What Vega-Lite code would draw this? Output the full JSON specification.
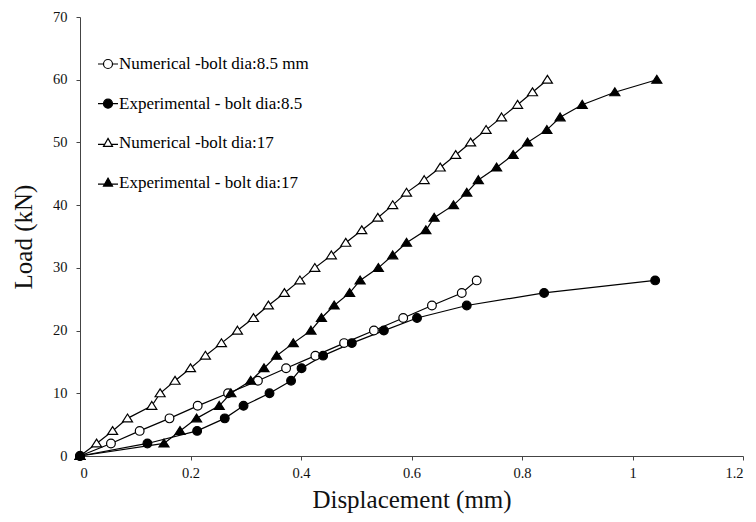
{
  "$schema": "https://vega.github.io/schema/vega-lite/v6.json",
  "width": 663,
  "height": 439,
  "autosize": {"type": "none"},
  "padding": {"left": 80, "top": 17, "right": 13, "bottom": 66},
  "background": "white",
  "config": {
    "font": "Liberation Serif",
    "view": {"stroke": null},
    "axis": {
      "grid": false,
      "domainColor": "#444",
      "domainWidth": 1,
      "tickColor": "#444",
      "tickSize": 4,
      "labelFont": "Liberation Serif",
      "labelFontSize": 14.5,
      "labelColor": "#111",
      "titleFont": "Liberation Serif",
      "titleFontSize": 25,
      "titleFontWeight": "normal",
      "titleColor": "#111"
    }
  },
  "data": {
    "values": [
      {"series": "Numerical -bolt dia:8.5 mm", "disp": 0, "load": 0},
      {"series": "Numerical -bolt dia:8.5 mm", "disp": 0.056, "load": 2},
      {"series": "Numerical -bolt dia:8.5 mm", "disp": 0.108, "load": 4},
      {"series": "Numerical -bolt dia:8.5 mm", "disp": 0.162, "load": 6},
      {"series": "Numerical -bolt dia:8.5 mm", "disp": 0.213, "load": 8},
      {"series": "Numerical -bolt dia:8.5 mm", "disp": 0.268, "load": 10},
      {"series": "Numerical -bolt dia:8.5 mm", "disp": 0.322, "load": 12},
      {"series": "Numerical -bolt dia:8.5 mm", "disp": 0.373, "load": 14},
      {"series": "Numerical -bolt dia:8.5 mm", "disp": 0.426, "load": 16},
      {"series": "Numerical -bolt dia:8.5 mm", "disp": 0.478, "load": 18},
      {"series": "Numerical -bolt dia:8.5 mm", "disp": 0.532, "load": 20},
      {"series": "Numerical -bolt dia:8.5 mm", "disp": 0.585, "load": 22},
      {"series": "Numerical -bolt dia:8.5 mm", "disp": 0.637, "load": 24},
      {"series": "Numerical -bolt dia:8.5 mm", "disp": 0.691, "load": 26},
      {"series": "Numerical -bolt dia:8.5 mm", "disp": 0.718, "load": 28},
      {"series": "Experimental - bolt dia:8.5", "disp": 0, "load": 0},
      {"series": "Experimental - bolt dia:8.5", "disp": 0.122, "load": 2},
      {"series": "Experimental - bolt dia:8.5", "disp": 0.212, "load": 4},
      {"series": "Experimental - bolt dia:8.5", "disp": 0.262, "load": 6},
      {"series": "Experimental - bolt dia:8.5", "disp": 0.296, "load": 8},
      {"series": "Experimental - bolt dia:8.5", "disp": 0.343, "load": 10},
      {"series": "Experimental - bolt dia:8.5", "disp": 0.382, "load": 12},
      {"series": "Experimental - bolt dia:8.5", "disp": 0.401, "load": 14},
      {"series": "Experimental - bolt dia:8.5", "disp": 0.44, "load": 16},
      {"series": "Experimental - bolt dia:8.5", "disp": 0.492, "load": 18},
      {"series": "Experimental - bolt dia:8.5", "disp": 0.55, "load": 20},
      {"series": "Experimental - bolt dia:8.5", "disp": 0.61, "load": 22},
      {"series": "Experimental - bolt dia:8.5", "disp": 0.7, "load": 24},
      {"series": "Experimental - bolt dia:8.5", "disp": 0.84, "load": 26},
      {"series": "Experimental - bolt dia:8.5", "disp": 1.041, "load": 28},
      {"series": "Numerical -bolt dia:17", "disp": 0, "load": 0},
      {"series": "Numerical -bolt dia:17", "disp": 0.03, "load": 2},
      {"series": "Numerical -bolt dia:17", "disp": 0.059, "load": 4},
      {"series": "Numerical -bolt dia:17", "disp": 0.086, "load": 6},
      {"series": "Numerical -bolt dia:17", "disp": 0.13, "load": 8},
      {"series": "Numerical -bolt dia:17", "disp": 0.145, "load": 10},
      {"series": "Numerical -bolt dia:17", "disp": 0.172, "load": 12},
      {"series": "Numerical -bolt dia:17", "disp": 0.2, "load": 14},
      {"series": "Numerical -bolt dia:17", "disp": 0.227, "load": 16},
      {"series": "Numerical -bolt dia:17", "disp": 0.256, "load": 18},
      {"series": "Numerical -bolt dia:17", "disp": 0.285, "load": 20},
      {"series": "Numerical -bolt dia:17", "disp": 0.314, "load": 22},
      {"series": "Numerical -bolt dia:17", "disp": 0.341, "load": 24},
      {"series": "Numerical -bolt dia:17", "disp": 0.37, "load": 26},
      {"series": "Numerical -bolt dia:17", "disp": 0.398, "load": 28},
      {"series": "Numerical -bolt dia:17", "disp": 0.425, "load": 30},
      {"series": "Numerical -bolt dia:17", "disp": 0.455, "load": 32},
      {"series": "Numerical -bolt dia:17", "disp": 0.481, "load": 34},
      {"series": "Numerical -bolt dia:17", "disp": 0.51, "load": 36},
      {"series": "Numerical -bolt dia:17", "disp": 0.539, "load": 38},
      {"series": "Numerical -bolt dia:17", "disp": 0.566, "load": 40},
      {"series": "Numerical -bolt dia:17", "disp": 0.591, "load": 42},
      {"series": "Numerical -bolt dia:17", "disp": 0.623, "load": 44},
      {"series": "Numerical -bolt dia:17", "disp": 0.652, "load": 46},
      {"series": "Numerical -bolt dia:17", "disp": 0.68, "load": 48},
      {"series": "Numerical -bolt dia:17", "disp": 0.707, "load": 50},
      {"series": "Numerical -bolt dia:17", "disp": 0.735, "load": 52},
      {"series": "Numerical -bolt dia:17", "disp": 0.763, "load": 54},
      {"series": "Numerical -bolt dia:17", "disp": 0.792, "load": 56},
      {"series": "Numerical -bolt dia:17", "disp": 0.819, "load": 58},
      {"series": "Numerical -bolt dia:17", "disp": 0.846, "load": 60},
      {"series": "Experimental - bolt dia:17", "disp": 0, "load": 0},
      {"series": "Experimental - bolt dia:17", "disp": 0.152, "load": 2},
      {"series": "Experimental - bolt dia:17", "disp": 0.181, "load": 4},
      {"series": "Experimental - bolt dia:17", "disp": 0.211, "load": 6},
      {"series": "Experimental - bolt dia:17", "disp": 0.252, "load": 8},
      {"series": "Experimental - bolt dia:17", "disp": 0.273, "load": 10},
      {"series": "Experimental - bolt dia:17", "disp": 0.309, "load": 12},
      {"series": "Experimental - bolt dia:17", "disp": 0.333, "load": 14},
      {"series": "Experimental - bolt dia:17", "disp": 0.356, "load": 16},
      {"series": "Experimental - bolt dia:17", "disp": 0.386, "load": 18},
      {"series": "Experimental - bolt dia:17", "disp": 0.418, "load": 20},
      {"series": "Experimental - bolt dia:17", "disp": 0.437, "load": 22},
      {"series": "Experimental - bolt dia:17", "disp": 0.46, "load": 24},
      {"series": "Experimental - bolt dia:17", "disp": 0.488, "load": 26},
      {"series": "Experimental - bolt dia:17", "disp": 0.507, "load": 28},
      {"series": "Experimental - bolt dia:17", "disp": 0.54, "load": 30},
      {"series": "Experimental - bolt dia:17", "disp": 0.566, "load": 32},
      {"series": "Experimental - bolt dia:17", "disp": 0.591, "load": 34},
      {"series": "Experimental - bolt dia:17", "disp": 0.626, "load": 36},
      {"series": "Experimental - bolt dia:17", "disp": 0.641, "load": 38},
      {"series": "Experimental - bolt dia:17", "disp": 0.676, "load": 40},
      {"series": "Experimental - bolt dia:17", "disp": 0.7, "load": 42},
      {"series": "Experimental - bolt dia:17", "disp": 0.721, "load": 44},
      {"series": "Experimental - bolt dia:17", "disp": 0.754, "load": 46},
      {"series": "Experimental - bolt dia:17", "disp": 0.784, "load": 48},
      {"series": "Experimental - bolt dia:17", "disp": 0.81, "load": 50},
      {"series": "Experimental - bolt dia:17", "disp": 0.845, "load": 52},
      {"series": "Experimental - bolt dia:17", "disp": 0.869, "load": 54},
      {"series": "Experimental - bolt dia:17", "disp": 0.909, "load": 56},
      {"series": "Experimental - bolt dia:17", "disp": 0.968, "load": 58},
      {"series": "Experimental - bolt dia:17", "disp": 1.044, "load": 60}
    ]
  },
  "encoding": {
    "x": {
      "field": "disp",
      "type": "quantitative",
      "title": "Displacement (mm)",
      "scale": {"domain": [0, 1.2], "nice": false, "zero": false},
      "axis": {
        "values": [0, 0.2, 0.4, 0.6, 0.8, 1, 1.2],
        "format": "~g",
        "labelPadding": 6,
        "titlePadding": 8
      }
    },
    "y": {
      "field": "load",
      "type": "quantitative",
      "title": "Load (kN)",
      "scale": {"domain": [0, 70], "nice": false},
      "axis": {
        "values": [0, 10, 20, 30, 40, 50, 60, 70],
        "labelPadding": 9,
        "titlePadding": 16
      }
    }
  },
  "layer": [
    {
      "mark": {"type": "line", "color": "black", "strokeWidth": 1.2},
      "encoding": {
        "detail": {"field": "series", "type": "nominal"}
      }
    },
    {
      "description": "Key only: no rows pass the filter, so this layer just supplies the legend (marker with a line through it).",
      "transform": [{"filter": "datum.load < 0"}],
      "mark": {"type": "point", "stroke": "black", "strokeWidth": 1.2, "opacity": 1},
      "encoding": {
        "shape": {
          "field": "series",
          "type": "nominal",
          "scale": {
            "domain": ["Numerical -bolt dia:8.5 mm", "Experimental - bolt dia:8.5", "Numerical -bolt dia:17", "Experimental - bolt dia:17"],
            "range": [
              "M-1,0H-0.45M0.45,0H1M0.45,0A0.45,0.45,0,1,1,-0.45,0A0.45,0.45,0,1,1,0.45,0Z",
              "M-1,0H-0.45M0.45,0H1M0.45,0A0.45,0.45,0,1,1,-0.45,0A0.45,0.45,0,1,1,0.45,0Z",
              "M-1,0.1H-0.33M0.33,0.1H1M0,-0.5L0.45,0.3L-0.45,0.3Z",
              "M-1,0.1H-0.33M0.33,0.1H1M0,-0.5L0.45,0.3L-0.45,0.3Z"
            ]
          },
          "legend": {
            "title": null,
            "orient": "none",
            "legendX": 17,
            "legendY": 36,
            "symbolSize": 400,
            "symbolStrokeWidth": 1.2,
            "rowPadding": 20.7,
            "labelOffset": 0,
            "labelFontSize": 17,
            "labelLimit": 400
          }
        },
        "fill": {
          "field": "series",
          "type": "nominal",
          "scale": {
            "domain": ["Numerical -bolt dia:8.5 mm", "Experimental - bolt dia:8.5", "Numerical -bolt dia:17", "Experimental - bolt dia:17"],
            "range": ["white", "black", "white", "black"]
          },
          "legend": {
            "title": null,
            "orient": "none",
            "legendX": 17,
            "legendY": 36,
            "symbolSize": 400,
            "symbolStrokeWidth": 1.2,
            "rowPadding": 20.7,
            "labelOffset": 0,
            "labelFontSize": 17,
            "labelLimit": 400
          }
        }
      }
    },
    {
      "mark": {"type": "point", "stroke": "black", "strokeWidth": 1.2, "opacity": 1, "size": 76},
      "encoding": {
        "shape": {
          "condition": {"test": "indexof(datum.series, '8.5') >= 0", "value": "circle"},
          "value": "M0,-1L1.15,0.8L-1.15,0.8Z"
        },
        "fill": {
          "condition": {"test": "indexof(datum.series, 'Experimental') >= 0", "value": "black"},
          "value": "white"
        }
      }
    }
  ]
}
